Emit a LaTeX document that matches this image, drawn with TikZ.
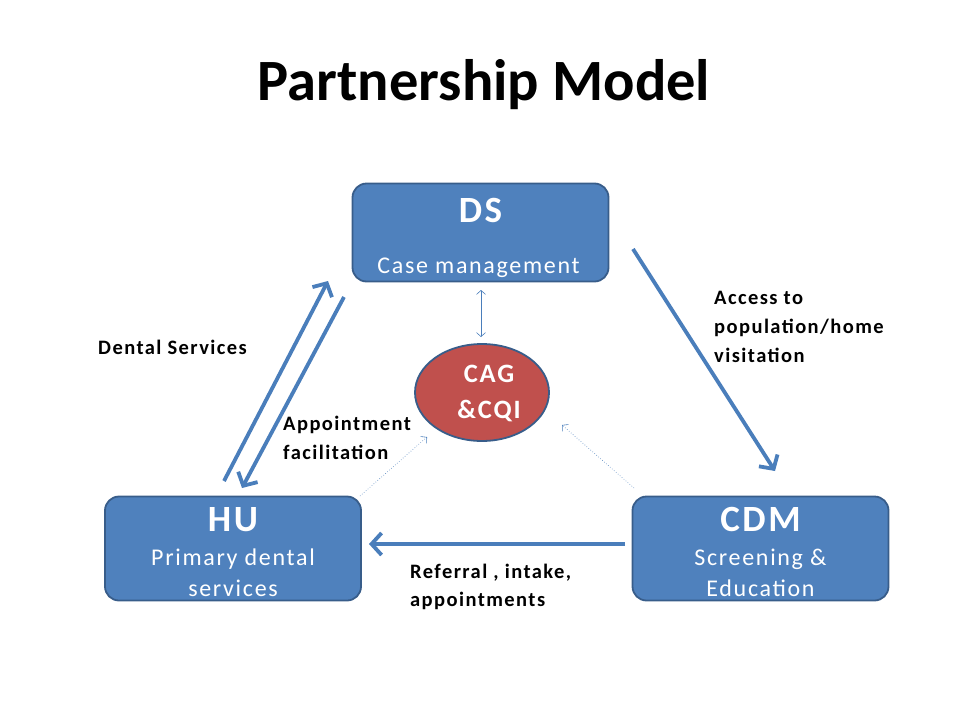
\documentclass[tikz,border=0pt]{standalone}
\usepackage{fontspec}
\setmainfont{Carlito}[LetterSpace=7]
\newfontfamily\titlefont{Carlito}
\newfontfamily\lblfont{Carlito}[LetterSpace=7]
\usetikzlibrary{arrows.meta,shapes.geometric}
\definecolor{boxfill}{HTML}{4F81BD}
\definecolor{boxline}{HTML}{385D8A}
\definecolor{redfill}{HTML}{C0504D}
\definecolor{arr}{HTML}{4A7EBB}
\tikzset{
  unitbox/.style={draw=boxline, line width=1.8pt, fill=boxfill, rounded corners=14pt, minimum width=256pt, minimum height=98pt, inner sep=0pt},
  wt/.style={text=white, align=center, inner sep=0pt, anchor=base},
  lbl/.style={font=\lblfont\fontsize{20.5}{28.8}\selectfont\bfseries, align=left, anchor=west, inner sep=0pt},
  bigarrow/.style={draw=arr, line width=3.8pt, -{Straight Barb[length=10pt,width=22pt,line width=3.8pt]}},
  thin/.style={draw=arr, line width=0.6pt},
}
\begin{document}
\begin{tikzpicture}[x=1pt,y=-1pt]
\useasboundingbox (0,0) rectangle (960,720);
\node[inner sep=0pt, anchor=base, font=\titlefont\fontsize{58.5}{60}\selectfont\bfseries] (title) at (484,100) {Partnership Model};
% boxes
\node[unitbox] (ds) at (480.5,232.5) {};
\node[unitbox, minimum height=104pt] (hu) at (233,548.5) {};
\node[unitbox, minimum height=104pt] (cdm) at (760.5,548.5) {};
\node[ellipse, draw=boxline, line width=1.8pt, fill=redfill, minimum width=134pt, minimum height=97pt, inner sep=0pt] (cag) at (482,392.5) {};
% box texts
\node[wt, font=\fontsize{37}{40}\selectfont\bfseries] (dst) at (480.5,222) {DS};
\node[wt, font=\fontsize{24}{28}\selectfont] (dss) at (478.5,273) {Case management};
\node[wt, font=\fontsize{37}{40}\selectfont\bfseries] (hut) at (233,531) {HU};
\node[wt, font=\fontsize{24}{31}\selectfont, anchor=north] (hus) at (233,549) {Primary dental\\services};
\node[wt, font=\fontsize{37}{40}\selectfont\bfseries] (cdmt) at (760.5,531) {CDM};
\node[wt, font=\fontsize{24}{31}\selectfont, anchor=north] (cdms) at (760.5,549) {Screening \&\\Education};
\node[wt, font=\fontsize{26.5}{36}\selectfont\bfseries, anchor=center] (cagt) at (489,393) {CAG\\\&CQI};
% labels
\node[lbl] (l1) at (98,347) {Dental Services};
\node[lbl] (l2) at (714,327) {Access to\\population/home\\visitation};
\node[lbl] (l3) at (283,438) {Appointment\\facilitation};
\node[lbl] (l4) at (410,587) {Referral , intake,\\appointments};
% coordinates for arrows
\coordinate (a1s) at (224,481);
\coordinate (a1e) at (328,281);
\coordinate (a2s) at (344,297);
\coordinate (a2e) at (242,488);
\coordinate (a3s) at (633,249);
\coordinate (a3e) at (775,471);
\coordinate (a4s) at (625,544);
\coordinate (a4e) at (369,544);
\draw[bigarrow] (a1s) -- (a1e);
\draw[bigarrow] (a2s) -- (a2e);
\draw[bigarrow] (a3s) -- (a3e);
\draw[bigarrow] (a4s) -- (a4e);
% thin arrows
\coordinate (t1s) at (481,290);
\coordinate (t1e) at (481,337);
\draw[thin, {Straight Barb[length=4pt,width=9pt]}-{Straight Barb[length=4pt,width=9pt]}] (t1s) -- (t1e);
\coordinate (d1s) at (360,496);
\coordinate (d1e) at (427,437);
\draw[thin, dotted, -{Straight Barb[length=4pt,width=9pt]}] (d1s) -- (d1e);
\coordinate (d2s) at (634,488);
\coordinate (d2e) at (562,425);
\draw[thin, dotted, -{Straight Barb[length=4pt,width=9pt]}] (d2s) -- (d2e);
\end{tikzpicture}
\end{document}
